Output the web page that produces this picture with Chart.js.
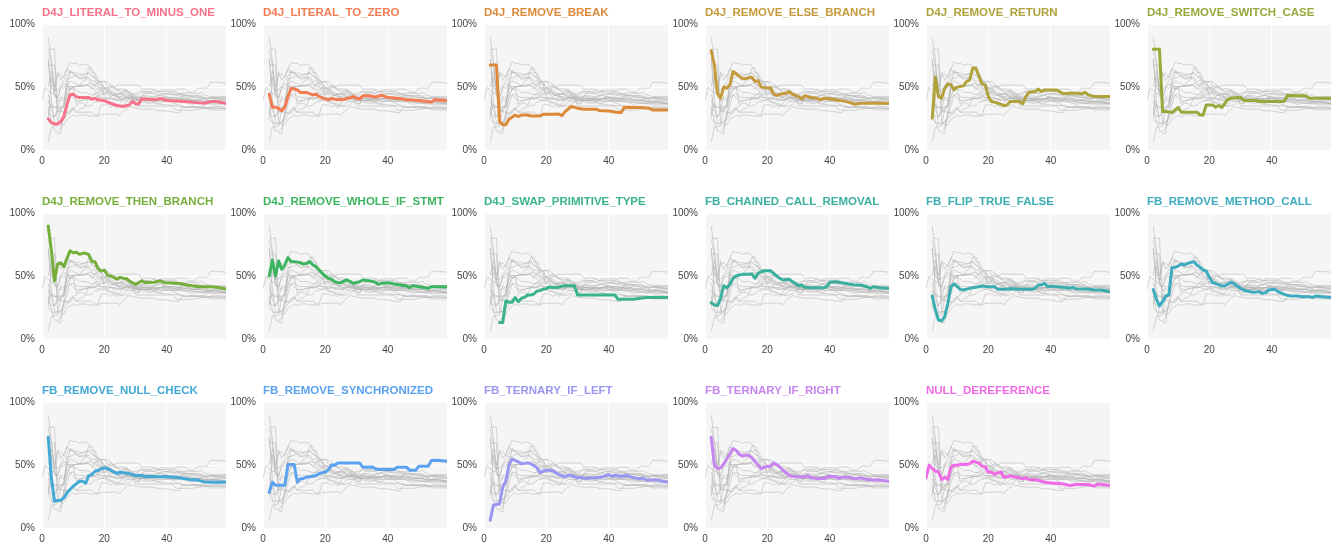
<!DOCTYPE html>
<html>
<head>
<meta charset="utf-8">
<script src="https://cdn.jsdelivr.net/npm/chart.js"></script>
<style>
  body { margin: 0; background: #fff; }
  #grid { position: relative; width: 1343px; height: 548px; }
  .panel { position: absolute; width: 232px; height: 176px; }
</style>
</head>
<body>
<div id="grid"></div>
<script>
// Running share (%) per mutation operator, as [step, percent] pairs
var LITERAL_TO_MINUS_ONE = [[2,24.7],[3,21.8],[4,20.7],[5,20.7],[6,22.5],[7,26.5],[8,35.8],[9,43.8],[10,44.3],[11,42.4],[12,41.6],[15,41.6],[16,40.3],[17,41],[18,39.8],[20,39],[22,37],[24,35.3],[26,34.5],[28,35.8],[29,38.5],[30,36.8],[31,36.6],[32,40.6],[34,40.3],[36,39.8],[38,40.8],[40,39.3],[44,38.7],[48,38],[52,37],[54,38.5],[56,38.5],[59,37]];
var LITERAL_TO_ZERO = [[2,44.3],[3,34],[4,34],[5,33],[6,31],[7,34],[8,42.4],[9,48.8],[10,48.5],[11,47.7],[12,45.6],[14,45.6],[16,43.8],[17,44.3],[18,42.4],[20,40.6],[21,39.8],[22,40.8],[24,39.8],[26,40.3],[28,41.6],[29,42.4],[30,41],[31,40.6],[32,43],[34,43],[36,42],[38,43.5],[40,41.6],[44,40.8],[46,39.8],[50,39.3],[54,38],[55,39.8],[59,39.3]];
var REMOVE_BREAK = [[2,67.4],[4,67.4],[5,22.5],[6,20],[7,20],[8,24.4],[9,26],[10,27.8],[11,26.5],[12,27.8],[14,27.8],[15,27],[18,27],[19,28.4],[22,28.4],[24,28.6],[25,27.3],[26,30.5],[28,34.5],[30,33.2],[32,32.4],[36,32.4],[37,31.3],[40,31],[43,29.7],[44,29.7],[45,34],[50,33.7],[53,33.2],[54,31.8],[59,31.8]];
var REMOVE_ELSE_BRANCH = [[2,78.8],[3,67.6],[4,45],[5,41.1],[6,49.9],[7,49],[8,51.7],[9,62.3],[10,60.5],[11,58.4],[12,56.5],[13,56.5],[14,57.3],[15,57.8],[16,54.4],[17,55],[18,49.9],[20,49.3],[21,49.5],[22,44.3],[23,43.2],[24,44.3],[26,45.1],[27,46.2],[28,44.3],[30,42.4],[31,40.6],[32,43.2],[34,41.6],[36,41.1],[37,39.8],[38,41.1],[40,40.6],[44,39],[46,38],[48,36.3],[50,37.1],[59,37.1]];
var REMOVE_RETURN = [[2,25.2],[3,57.8],[4,42.4],[5,41.1],[6,49],[7,52.5],[8,51.7],[9,47.7],[10,49.9],[12,50.9],[13,54.4],[14,55.7],[15,65],[16,65],[17,58.4],[18,52.3],[19,51.7],[20,42.4],[21,38.5],[22,38],[24,36.3],[25,35],[26,35.8],[27,38.5],[30,38.5],[31,36.6],[32,42.4],[33,45.9],[35,46.4],[36,48.3],[37,46.4],[38,47.7],[42,47.7],[44,44.6],[46,45.1],[48,45.1],[50,44.6],[51,45.9],[52,43.8],[54,42.4],[59,42.4]];
var REMOVE_SWITCH_CASE = [[2,80],[4,80],[5,30.5],[6,30.5],[8,29.7],[10,33.7],[11,30],[16,30],[17,27.8],[18,27.8],[19,35.8],[21,35.8],[22,34],[23,35.3],[24,33.7],[25,37.1],[26,40.3],[27,41.1],[30,41.9],[31,39.3],[35,39.3],[36,38.5],[44,38.5],[45,43.2],[51,43],[52,41.1],[59,41.1]];
var REMOVE_THEN_BRANCH = [[2,89.7],[3,70.6],[4,46.3],[5,59.5],[6,60.5],[7,57.4],[8,64],[9,70],[10,68.5],[11,68.8],[12,67.2],[13,68],[14,68],[15,66.9],[16,61.3],[17,61.3],[18,56],[19,53.9],[20,54.7],[21,50.7],[22,49.9],[23,48.9],[24,47.5],[25,48.9],[26,48.3],[27,48],[28,46],[30,43.3],[31,44.6],[32,46.2],[33,44.9],[36,45],[38,46.2],[39,44.9],[40,44.6],[44,44.1],[48,42.2],[50,41.4],[54,41.4],[56,41],[59,39.6]];
var REMOVE_WHOLE_IF_STMT = [[2,50],[3,62.7],[4,50],[5,62],[6,55.3],[7,58.7],[8,64.6],[9,61.4],[10,61.4],[12,60.6],[13,59.5],[14,60],[15,61.4],[16,58.7],[17,57.4],[18,54.8],[19,52.1],[20,50],[21,48.1],[22,47.4],[23,45.5],[24,44.7],[25,44.7],[26,46],[27,46.8],[28,45.5],[29,44.2],[31,45.5],[32,46.8],[34,46.3],[36,45],[37,43.4],[38,44.2],[40,44.7],[42,43.7],[44,42.9],[46,42],[47,40.7],[48,42.3],[50,41.5],[52,40.7],[53,40.2],[54,41.5],[59,41.5]];
var SWAP_PRIMITIVE_TYPE = [[5,13],[6,13],[7,30.2],[8,29.1],[9,29.1],[10,32.8],[11,29.6],[12,32.3],[13,33],[14,34.9],[15,34.9],[16,35.7],[17,38.1],[18,38.4],[19,39.7],[20,39.9],[21,41.5],[22,40.7],[24,41],[25,42],[26,42.3],[29,42.3],[30,34.9],[42,34.9],[43,31.5],[48,31.5],[50,32.3],[52,33],[59,33]];
var CHAINED_CALL_REMOVAL = [[2,28.8],[3,27],[4,26.5],[5,32.3],[6,42.3],[7,40.7],[8,43.4],[9,48.1],[10,50],[11,50.8],[12,51.3],[14,51.3],[15,51.6],[16,48.1],[17,52.1],[18,53.4],[19,54.2],[21,54.2],[22,52.1],[23,50],[24,48.1],[25,46.8],[27,47.4],[28,45.5],[29,44.2],[30,42.3],[31,42.9],[32,41],[34,40.7],[38,40.7],[39,41.5],[40,45],[42,45.5],[44,44.7],[46,43.7],[48,42.9],[50,42.9],[52,41.5],[53,40.2],[54,41.5],[56,40.7],[59,40]];
var FLIP_TRUE_FALSE = [[2,34.1],[3,23],[4,15.1],[5,14.3],[6,17.7],[7,28.3],[8,41.5],[9,43.7],[10,41.5],[11,39.4],[12,38.9],[14,40.2],[16,41],[18,42],[20,41.5],[22,41.5],[23,39.4],[26,39.4],[28,39.9],[30,39.4],[34,39.4],[35,40.2],[36,42.9],[37,42.9],[38,44.2],[39,41.5],[40,42],[44,41],[46,40.2],[47,41],[48,39.9],[52,39.7],[54,38.9],[56,38.9],[59,37.6]];
var REMOVE_METHOD_CALL = [[2,39.2],[3,31.7],[4,26.2],[5,29.6],[6,34.1],[7,34.9],[8,56.6],[9,56.9],[10,57.9],[11,59.5],[12,58.7],[13,60],[14,60.8],[15,61.4],[16,58.7],[17,56.9],[18,54.8],[19,54],[20,49],[21,44.7],[22,44.2],[24,42],[25,42.3],[26,43.7],[27,45],[28,43.7],[30,40.2],[31,38.9],[32,38.1],[34,37],[36,37.6],[37,36.2],[38,36.8],[39,38.9],[41,39.4],[42,37.6],[44,35.4],[46,34.1],[48,34.1],[50,33.6],[52,33.6],[53,32.8],[54,34.1],[56,33.6],[59,33]];
var REMOVE_NULL_CHECK = [[2,72.1],[3,40],[4,21.2],[5,21.8],[6,22],[7,23.9],[8,27.9],[9,30.5],[10,33.2],[11,35],[12,37.1],[13,37.1],[14,35.5],[15,41.6],[16,42.4],[17,45.1],[18,45.6],[19,47],[20,47.7],[21,47.2],[22,45.9],[23,44.6],[24,43.2],[25,44.3],[26,43.8],[28,43.2],[30,41.6],[32,41.6],[33,40.6],[34,41.1],[36,40.8],[40,40.6],[44,39.8],[46,39],[48,38.2],[50,38],[52,36.6],[56,36.3],[59,36.3]];
var REMOVE_SYNCHRONIZED = [[2,28.4],[3,36.3],[4,34],[7,34],[8,50.4],[10,50.4],[11,36.3],[12,39],[13,39.3],[14,40.3],[15,40.6],[16,41.1],[17,41.6],[18,43.2],[19,43.8],[20,44.3],[21,46.4],[22,49.9],[23,49.9],[24,51.5],[31,51.5],[32,48.3],[35,48.5],[36,47],[37,46.4],[42,46.4],[43,48.3],[46,48.3],[47,45.9],[49,45.9],[50,49.1],[53,49.1],[54,53.6],[56,53.8],[59,53]];
var TERNARY_IF_LEFT = [[2,6.1],[3,18],[4,18.6],[5,19.1],[6,32.6],[7,37.1],[8,49.9],[9,54.9],[10,53.6],[11,52.5],[12,50.9],[14,51.7],[15,50.9],[16,49.6],[17,47.7],[18,43.8],[19,45.1],[20,45.9],[22,45.6],[23,43.8],[24,42.4],[25,41.6],[26,40.6],[27,41.9],[28,41.6],[30,39.8],[31,40.3],[32,39.3],[36,39.8],[38,40.6],[40,42.4],[41,41.1],[42,41.9],[44,41.1],[46,41.6],[48,39.8],[50,39],[51,39.8],[52,38],[56,38],[57,37.1],[59,36.3]];
var TERNARY_IF_RIGHT = [[2,72.1],[3,49.9],[4,47.2],[5,47.7],[6,50.9],[7,54.9],[8,58.9],[9,63.1],[10,61.5],[11,58.4],[12,57],[13,57.8],[14,57.8],[15,55.7],[16,53],[17,49.9],[18,47.2],[19,48.3],[20,49],[21,49],[22,51.7],[23,50.4],[24,48.5],[25,45.6],[26,43.8],[27,41.9],[28,41.1],[30,40.6],[32,40.6],[33,41.6],[34,39.8],[36,39.3],[38,39.3],[40,41.1],[42,40.6],[43,39.3],[44,40.3],[46,40.3],[48,39],[50,39.8],[52,38.5],[53,38.5],[54,38],[56,38],[59,37.1]];
var NULL_DEREFERENCE = [[0,39.8],[1,49.9],[2,47.2],[3,45.1],[4,44.6],[5,38.5],[6,40.3],[7,38.5],[8,48.3],[9,49.9],[10,49.9],[11,50.4],[13,50.4],[14,50.9],[15,53],[16,52.3],[17,51.5],[18,49.1],[19,48.5],[20,44.3],[21,44.3],[22,42.4],[23,43.8],[24,44.6],[25,40.3],[26,40.6],[27,41.6],[28,40.6],[30,39.8],[31,39],[32,39.8],[33,38.5],[36,37.9],[38,36.3],[40,35.8],[44,35],[46,33.7],[48,34.5],[52,34.5],[54,33.2],[55,35],[59,34]];

var names = ['D4J_LITERAL_TO_MINUS_ONE', 'D4J_LITERAL_TO_ZERO', 'D4J_REMOVE_BREAK', 'D4J_REMOVE_ELSE_BRANCH',
  'D4J_REMOVE_RETURN', 'D4J_REMOVE_SWITCH_CASE', 'D4J_REMOVE_THEN_BRANCH', 'D4J_REMOVE_WHOLE_IF_STMT',
  'D4J_SWAP_PRIMITIVE_TYPE', 'FB_CHAINED_CALL_REMOVAL', 'FB_FLIP_TRUE_FALSE', 'FB_REMOVE_METHOD_CALL',
  'FB_REMOVE_NULL_CHECK', 'FB_REMOVE_SYNCHRONIZED', 'FB_TERNARY_IF_LEFT', 'FB_TERNARY_IF_RIGHT', 'NULL_DEREFERENCE'];
var series = [LITERAL_TO_MINUS_ONE, LITERAL_TO_ZERO, REMOVE_BREAK, REMOVE_ELSE_BRANCH, REMOVE_RETURN,
  REMOVE_SWITCH_CASE, REMOVE_THEN_BRANCH, REMOVE_WHOLE_IF_STMT, SWAP_PRIMITIVE_TYPE, CHAINED_CALL_REMOVAL,
  FLIP_TRUE_FALSE, REMOVE_METHOD_CALL, REMOVE_NULL_CHECK, REMOVE_SYNCHRONIZED, TERNARY_IF_LEFT,
  TERNARY_IF_RIGHT, NULL_DEREFERENCE];
var colors = ['#f77189', '#f37b52', '#dc8a3a', '#c59a3c', '#afa23b', '#9aa73b', '#76ae3b', '#3db460',
  '#3ab28e', '#3aaf9e', '#3badaf', '#3eabc0', '#42a8d6', '#5aa2f0', '#9a96f2', '#c685f0', '#ef6ae6'];

var xTicks = [0, 20, 40];
var xTickLabels = ['0', '20', '40'];
var yTicks = [0, 50, 100];
var yTickLabels = ['0%', '50%', '100%'];

var FONT = '"Liberation Sans", Arial, sans-serif';

// plot background + panel title
var panelDeco = {
  id: 'panelDeco',
  beforeDraw: function(chart) {
    var a = chart.chartArea;
    var ctx = chart.ctx;
    ctx.save();
    ctx.fillStyle = '#f5f5f5';
    ctx.fillRect(a.left, a.top, a.right - a.left, a.bottom - a.top);
    ctx.restore();
  },
  afterDraw: function(chart) {
    var a = chart.chartArea;
    var ctx = chart.ctx;
    var opts = chart.options.plugins.panelDeco;
    ctx.save();
    ctx.font = 'bold 11.5px ' + FONT;
    ctx.fillStyle = opts.color;
    ctx.textBaseline = 'middle';
    ctx.textAlign = 'left';
    ctx.fillText(opts.text, a.left, a.top - 11);
    ctx.restore();
  }
};

function toPoints(pairs) {
  return pairs.map(function(p) { return { x: p[0], y: p[1] }; });
}

var grid = document.getElementById('grid');

names.forEach(function(name, i) {
  var col = i % 6, row = Math.floor(i / 6);
  var box = document.createElement('div');
  box.className = 'panel';
  box.style.left = (221 * col) + 'px';
  box.style.top = (189 * row) + 'px';
  var canvas = document.createElement('canvas');
  canvas.width = 232;
  canvas.height = 176;
  box.appendChild(canvas);
  grid.appendChild(box);

  var datasets = [{
    data: toPoints(series[i]),
    borderColor: colors[i],
    borderWidth: 3,
    borderJoinStyle: 'round',
    borderCapStyle: 'round',
    order: 0
  }];
  series.forEach(function(s, j) {
    if (j === i) return;
    datasets.push({
      data: toPoints(s),
      borderColor: 'rgba(175, 175, 175, 0.5)',
      borderWidth: 1,
      order: 1
    });
  });

  new Chart(canvas, {
    type: 'line',
    data: { datasets: datasets },
    options: {
      responsive: false,
      animation: false,
      layout: { padding: { top: 24, right: 6, left: 0, bottom: 0 } },
      elements: { point: { radius: 0 }, line: { tension: 0 } },
      scales: {
        x: {
          type: 'linear', min: 0, max: 59,
          afterBuildTicks: function(s) { s.ticks = xTicks.map(function(v) { return { value: v }; }); },
          afterFit: function(s) { s.height = 26; },
          grid: { color: '#ffffff', lineWidth: 1, drawTicks: false },
          border: { display: false },
          ticks: {
            padding: 5, color: '#444', font: { family: FONT, size: 10 },
            callback: function(v) { return xTickLabels[xTicks.indexOf(v)]; }
          }
        },
        y: {
          min: 0, max: 100,
          afterBuildTicks: function(s) { s.ticks = yTicks.map(function(v) { return { value: v }; }); },
          afterFit: function(s) { s.width = 42; },
          grid: { color: '#ffffff', lineWidth: 1, drawTicks: false },
          border: { display: false },
          ticks: {
            padding: 7, color: '#444', font: { family: FONT, size: 10 },
            callback: function(v) { return yTickLabels[yTicks.indexOf(v)]; }
          }
        }
      },
      plugins: {
        legend: { display: false },
        tooltip: { enabled: false },
        panelDeco: { text: name, color: colors[i] }
      }
    },
    plugins: [panelDeco]
  });
});
</script>
</body>
</html>
